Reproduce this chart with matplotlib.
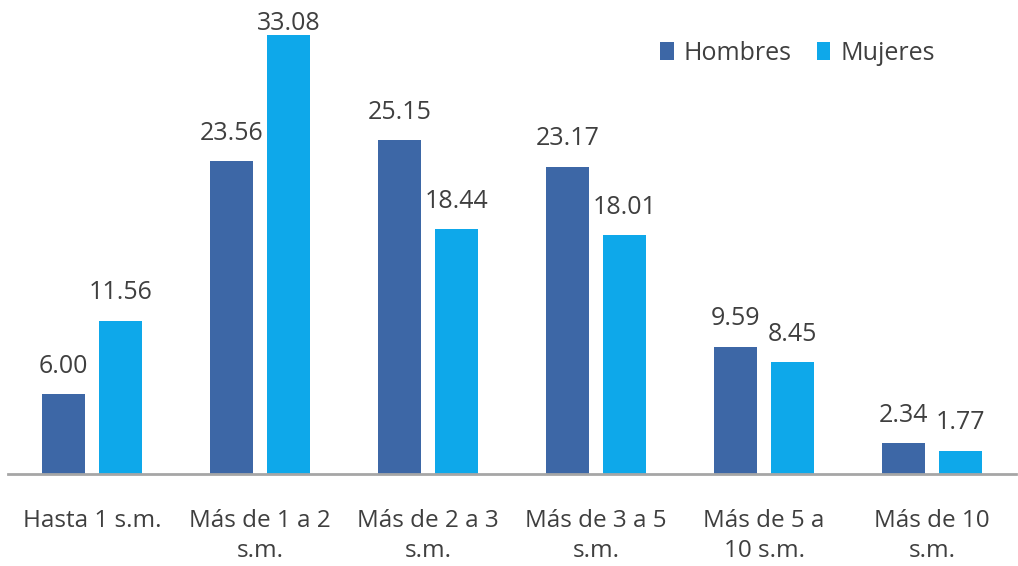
import matplotlib.pyplot as plt
import numpy as np

categorias = ['Hasta 1 s.m.', 'Más de 1 a 2\ns.m.', 'Más de 2 a 3\ns.m.',
              'Más de 3 a 5\ns.m.', 'Más de 5 a\n10 s.m.', 'Más de 10\ns.m.']
hombres = [6.00, 23.56, 25.15, 23.17, 9.59, 2.34]
mujeres = [11.56, 33.08, 18.44, 18.01, 8.45, 1.77]

c_hombres = '#3d67a6'
c_mujeres = '#0ea8ea'
gris = '#3f3f3f'

plt.rcParams['font.family'] = ['Open Sans', 'DejaVu Sans']

fig = plt.figure(figsize=(10.18, 5.66), dpi=100)
ax = fig.add_axes([8 / 1018, 92 / 566, 1008 / 1018, (474 - 9.5) / 566])

x = np.arange(len(categorias))
w = 0.26
b1 = ax.bar(x - 0.17, hombres, w, color=c_hombres, label='Hombres')
b2 = ax.bar(x + 0.17, mujeres, w, color=c_mujeres, label='Mujeres')

ymax = 35
for bars in (b1, b2):
    for r in bars:
        h = r.get_height()
        # la etiqueta del valor mayor queda pegada al borde superior
        off = -1 if h > 30 else 11
        ax.annotate('{:.2f}'.format(h),
                    (r.get_x() + r.get_width() / 2, h),
                    xytext=(0, off), textcoords='offset points',
                    ha='center', va='bottom', fontsize=18, color=gris)

ax.set_xlim(-0.5, len(categorias) - 0.5)
ax.set_ylim(0, ymax)
ax.set_xticks(x)
ax.set_xticklabels(categorias, fontsize=17.5, color=gris, linespacing=1.35)
ax.tick_params(axis='x', length=0, pad=25)
ax.set_yticks([])
for s in ['top', 'right', 'left']:
    ax.spines[s].set_visible(False)
ax.spines['bottom'].set_color('#a6a6a6')
ax.spines['bottom'].set_linewidth(2)

ax.legend(loc='center', bbox_to_anchor=(0.783, 0.906), ncol=2, frameon=False,
          fontsize=18, handlelength=0.55, handleheight=0.75, handletextpad=0.4,
          columnspacing=1.0, labelcolor=gris, borderpad=0)

plt.savefig('out.png', dpi=100)
